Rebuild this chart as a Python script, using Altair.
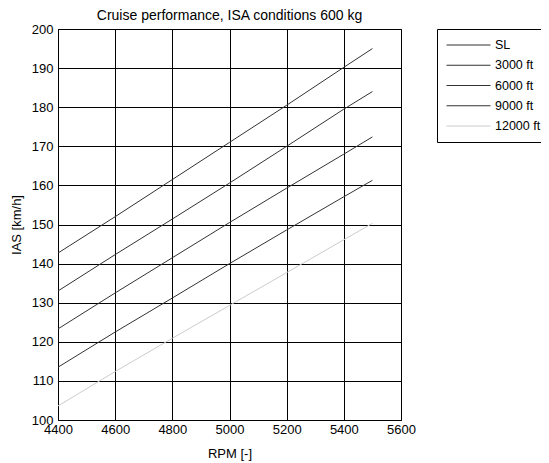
import altair as alt
import pandas as pd

rpm = [4400, 4600, 4800, 5000, 5200, 5400, 5500]
series_names = ["SL", "3000 ft", "6000 ft", "9000 ft", "12000 ft"]
ias_sl = [142.7, 152.0, 161.5, 171.0, 180.5, 190.2, 195.0]
ias_3000 = [133.0, 142.3, 151.4, 160.6, 170.0, 179.5, 184.0]
ias_6000 = [123.3, 132.5, 141.5, 150.5, 159.3, 168.0, 172.4]
ias_9000 = [113.5, 122.5, 131.2, 140.0, 148.6, 157.1, 161.3]
ias_12000 = [103.6, 112.4, 120.9, 129.3, 137.7, 146.1, 150.3]
line_colors = ["#333333", "#333333", "#333333", "#333333", "#cccccc"]

x_ticks = [4400, 4600, 4800, 5000, 5200, 5400, 5600]
y_ticks = [100, 110, 120, 130, 140, 150, 160, 170, 180, 190, 200]

rows = []
for name, vals in zip(series_names, [ias_sl, ias_3000, ias_6000, ias_9000, ias_12000]):
    for r, v in zip(rpm, vals):
        rows.append({"rpm": r, "ias": v, "series": name})
df = pd.DataFrame(rows)

FONT = "Liberation Sans"

chart = alt.Chart(df).mark_line(strokeWidth=1).encode(
    x=alt.X("rpm:Q", scale=alt.Scale(domain=[4400, 5600], nice=False),
            axis=alt.Axis(values=x_ticks, title="RPM [-]", format="d")),
    y=alt.Y("ias:Q", scale=alt.Scale(domain=[100, 200], nice=False),
            axis=alt.Axis(values=y_ticks, title="IAS [km/h]", format="d")),
    color=alt.Color("series:N", sort=series_names,
                    scale=alt.Scale(domain=series_names, range=line_colors),
                    legend=alt.Legend(title=None, orient="none", legendX=379, legendY=0,
                                      symbolType="stroke", symbolSize=1936,
                                      symbolStrokeWidth=1, labelFontSize=12.5,
                                      labelFont=FONT, labelOffset=4, padding=8,
                                      symbolOffset=1, clipHeight=16, rowPadding=4.25,
                                      strokeColor="black", fillColor="white",
                                      labelColor="black")),
    detail="series:N",
).properties(
    width=343, height=391,
    title=alt.TitleParams("Cruise performance, ISA conditions 600 kg", fontSize=14,
                          font=FONT, fontWeight="normal", color="black", offset=0),
    autosize="none",
    padding={"left": 50, "top": 21, "right": 140, "bottom": 43},
).configure_axis(
    grid=True, gridColor="black", gridOpacity=1, gridWidth=1,
    domain=False, ticks=False, labelFontSize=13, labelFont=FONT, labelColor="black",
    titleFontSize=13, titleFont=FONT, titleFontWeight="normal", titleColor="black",
    labelOverlap=False, labelFlush=False,
).configure_axisX(labelPadding=3, titlePadding=11).configure_axisY(
    labelPadding=5, titlePadding=8
).configure_view(stroke="black", strokeWidth=1)

chart.save("out.html", embed_options={"renderer": "svg", "actions": False})
